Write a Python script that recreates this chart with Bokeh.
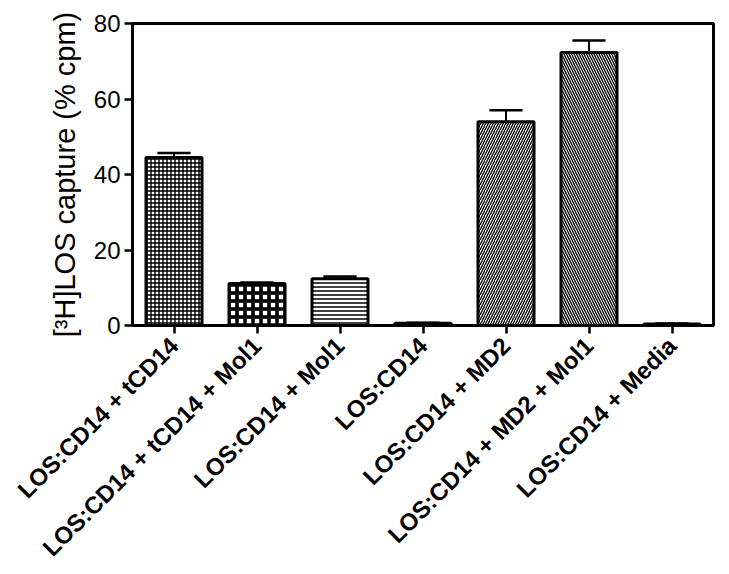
from bokeh.plotting import figure
from bokeh.models import FixedTicker, Range1d, ColumnDataSource
from bokeh.embed import file_html
from bokeh.resources import INLINE

# ---- data ----
categories = ["LOS:CD14 + tCD14", "LOS:CD14 + tCD14 + Mol1", "LOS:CD14 + Mol1",
              "LOS:CD14", "LOS:CD14 + MD2", "LOS:CD14 + MD2 + Mol1", "LOS:CD14 + Media"]
values = [44.5, 11.1, 12.4, 0.6, 54.0, 72.3, 0.4]
errors = [1.2, 0.3, 0.6, 0.1, 3.0, 3.2, 0.1]
y_ticks = [0, 20, 40, 60, 80]

# ---- bar styles ----
styles = [
    dict(hatch_pattern="cross", hatch_scale=4, hatch_weight=1.4),
    dict(hatch_pattern="cross", hatch_scale=8, hatch_weight=3.5),
    dict(hatch_pattern="horizontal_line", hatch_scale=4, hatch_weight=1.5),
    dict(fill_color="black"),
    dict(hatch_pattern="right_diagonal_line", hatch_scale=5, hatch_weight=1.3),
    dict(hatch_pattern="left_diagonal_line", hatch_scale=5, hatch_weight=1.3),
    dict(fill_color="black"),
]

p = figure(width=729, height=574, output_backend="svg", toolbar_location=None,
           x_range=Range1d(-0.5, 6.5), y_range=Range1d(0, 80),
           min_border_left=132, min_border_right=16, min_border_top=23, min_border_bottom=249)
p.grid.visible = False
p.outline_line_color = "black"
p.outline_line_width = 3
p.background_fill_color = "white"

xs = list(range(len(categories)))
for i in xs:
    st = dict(fill_color="white", hatch_color="black")
    st.update(styles[i])
    src = ColumnDataSource(dict(x=[xs[i]], top=[values[i]]))
    p.vbar(x="x", top="top", width=0.675, bottom=0, source=src,
           line_color="black", line_width=3, **st)

# error bars (upper only)
err_src = ColumnDataSource(dict(
    x=xs, top=values, up=[v + e for v, e in zip(values, errors)],
    x0=[x - 0.2 for x in xs], x1=[x + 0.2 for x in xs]))
p.segment(x0="x", y0="top", x1="x", y1="up", source=err_src, line_color="black", line_width=2)
p.segment(x0="x0", y0="up", x1="x1", y1="up", source=err_src, line_color="black", line_width=2.5)

# axes
p.xaxis.ticker = FixedTicker(ticks=xs)
p.xaxis.major_label_overrides = {i: c for i, c in enumerate(categories)}
p.xaxis.major_label_orientation = 0.7854
p.xaxis.major_label_text_font = "Liberation Sans"
p.xaxis.major_label_text_font_style = "bold"
p.xaxis.major_label_text_font_size = "24px"
p.xaxis.major_label_text_color = "black"
p.xaxis.major_label_standoff = 8

p.yaxis.ticker = FixedTicker(ticks=y_ticks)
p.yaxis.major_label_text_font = "Liberation Sans"
p.yaxis.major_label_text_font_size = "24px"
p.yaxis.major_label_text_color = "black"
p.yaxis.axis_label = "[³H]LOS capture (% cpm)"
p.yaxis.axis_label_text_font = "Liberation Sans"
p.yaxis.axis_label_text_font_size = "29px"
p.yaxis.axis_label_text_font_style = "normal"
p.yaxis.axis_label_text_color = "black"
p.yaxis.axis_label_standoff = 10
p.yaxis.major_label_standoff = 4

for ax in (p.xaxis, p.yaxis):
    ax.axis_line_width = 3
    ax.axis_line_color = "black"
    ax.major_tick_line_width = 2.5
    ax.major_tick_line_color = "black"
    ax.major_tick_out = 8
    ax.major_tick_in = 0
    ax.minor_tick_line_color = None

open("out.html", "w").write(file_html(p, INLINE))
